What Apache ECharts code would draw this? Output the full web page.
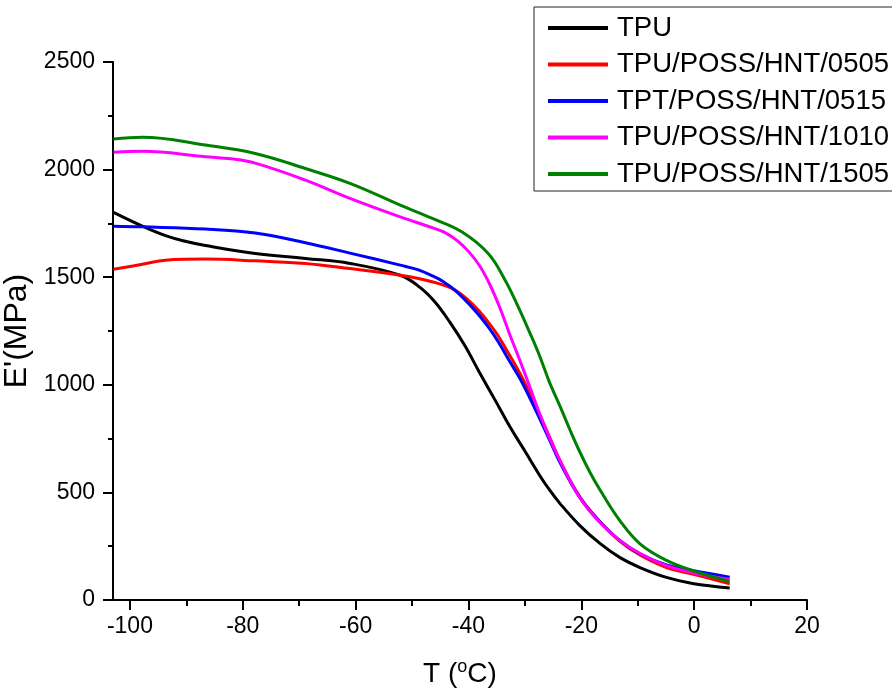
<!DOCTYPE html>
<html>
<head>
<meta charset="utf-8">
<script src="https://cdn.jsdelivr.net/npm/echarts@6/dist/echarts.min.js"></script>
<style>
html,body{margin:0;padding:0;background:#fff;}
#chart{width:892px;height:695px;}
</style>
</head>
<body>
<div id="chart"></div>
<script>
// ---- data ----
var seriesNames = ['TPU', 'TPU/POSS/HNT/0505', 'TPT/POSS/HNT/0515', 'TPU/POSS/HNT/1010', 'TPU/POSS/HNT/1505'];
var seriesColors = ['#000000', '#ff0000', '#0000ff', '#ff00ff', '#008000'];

var tTPU = [-102.9, -97.8, -93.7, -90.2, -86.6, -77.8, -68.9, -61.0, -52.1, -48.6, -45.9, -43.3, -40.6, -38.0, -35.3, -32.7, -30.0, -27.4, -25.6, -23.8, -20.3, -16.7, -13.2, -9.6, -4.9, -0.3, 6.3];
var eTPU = [1801, 1737, 1693, 1667, 1647, 1610, 1587, 1564, 1509, 1453, 1384, 1291, 1180, 1055, 930, 807, 692, 580, 510, 449, 347, 263, 198, 151, 105, 77, 56];

var t0505 = [-102.9, -97.8, -93.7, -86.6, -77.8, -68.9, -61.0, -52.1, -46.3, -42.4, -38.9, -36.6, -34.8, -32.7, -30.9, -29.1, -27.4, -25.6, -23.8, -20.3, -16.7, -13.2, -9.6, -4.9, -0.3, 6.3];
var e0505 = [1537, 1560, 1579, 1584, 1576, 1564, 1540, 1509, 1478, 1440, 1365, 1295, 1230, 1137, 1054, 961, 863, 756, 649, 481, 365, 274, 209, 151, 121, 75];

var t0515 = [-102.9, -97.8, -86.6, -77.8, -68.9, -61.0, -52.1, -49.0, -46.3, -44.5, -42.4, -38.9, -36.5, -34.7, -33.0, -30.9, -29.1, -27.4, -25.6, -23.8, -20.3, -16.7, -13.2, -9.6, -4.9, -0.3, 6.3];
var e0515 = [1737, 1734, 1724, 1705, 1660, 1612, 1556, 1535, 1505, 1480, 1440, 1347, 1269, 1199, 1122, 1030, 937, 844, 742, 640, 478, 362, 277, 215, 163, 137, 106];

var t1010 = [-102.9, -97.8, -86.6, -82.0, -77.8, -68.9, -61.0, -52.1, -46.3, -44.0, -42.0, -40.0, -38.0, -36.2, -34.4, -32.7, -30.9, -29.1, -27.4, -25.6, -23.8, -20.3, -16.7, -13.2, -9.6, -4.9, -0.3, 6.3];
var e1010 = [2081, 2085, 2060, 2050, 2030, 1951, 1866, 1780, 1729, 1705, 1670, 1620, 1552, 1465, 1356, 1235, 1114, 988, 867, 751, 649, 477, 360, 277, 216, 160, 128, 95];

var t1505 = [-102.9, -97.8, -86.6, -77.8, -68.9, -61.0, -52.1, -46.3, -41.2, -36.5, -33.5, -31.2, -29.1, -27.4, -25.6, -23.8, -22.0, -20.3, -18.5, -16.7, -13.2, -9.6, -4.9, -0.3, 6.3];
var e1505 = [2142, 2150, 2114, 2075, 2005, 1936, 1835, 1772, 1711, 1610, 1486, 1363, 1240, 1135, 1009, 902, 790, 690, 595, 512, 370, 261, 184, 137, 86];

var xMajorTicks = [-100, -80, -60, -40, -20, 0, 20];
var xMinorTicks = [-90, -70, -50, -30, -10, 10];

var allT = [tTPU, t0505, t0515, t1010, t1505];
var allE = [eTPU, e0505, e0515, e1010, e1505];

function pairs(t, e) {
  var out = [];
  for (var i = 0; i < t.length; i++) out.push([t[i], e[i]]);
  return out;
}

var FONT = '"Liberation Sans", Arial, Helvetica, sans-serif';

var series = seriesNames.map(function (name, i) {
  return {
    name: name,
    type: 'line',
    xAxisIndex: 0,
    data: pairs(allT[i], allE[i]),
    showSymbol: false,
    symbol: 'none',
    smooth: 0.4,
    lineStyle: { color: seriesColors[i], width: 3 },
    itemStyle: { color: seriesColors[i] },
    animation: false
  };
});

var chart = echarts.init(document.getElementById('chart'), null, { renderer: 'canvas' });
chart.setOption({
  backgroundColor: '#ffffff',
  animation: false,
  textStyle: { fontFamily: FONT },
  grid: { left: 113, right: 85, top: 62, bottom: 95, containLabel: false, outerBoundsMode: 'none' },
  legend: {
    orient: 'vertical',
    left: 534,
    top: 7,
    padding: [7, 12, 3, 14],
    itemWidth: 60,
    itemHeight: 27,
    itemGap: 8.5,
    backgroundColor: '#ffffff',
    borderColor: '#222222',
    borderWidth: 1,
    borderRadius: 0,
    icon: 'path://M0,0 L60,0 L60,4 L0,4 Z',
    textStyle: { fontFamily: FONT, fontSize: 27.5, color: '#000', padding: [0, 0, 0, 4], lineHeight: 27 },
    data: seriesNames.map(function (n, i) { return { name: n, itemStyle: { color: seriesColors[i] } }; })
  },
  xAxis: [
    {
      type: 'value',
      min: -103,
      max: 20,
      position: 'bottom',
      name: '{a|T (}{s|o}{a|C)}',
      nameLocation: 'middle',
      nameGap: 58,
      nameTextStyle: {
        rich: {
          a: { fontFamily: FONT, fontSize: 28, color: '#000', lineHeight: 30, verticalAlign: 'bottom' },
          s: { fontFamily: FONT, fontSize: 18, color: '#000', lineHeight: 30, verticalAlign: 'top', padding: [0, 0, 10, 0] }
        }
      },
      axisLine: { show: true, onZero: false, lineStyle: { color: '#000', width: 2 } },
      axisTick: { show: true, length: 10, lineStyle: { color: '#000', width: 2 }, customValues: xMajorTicks },
      axisLabel: { show: true, customValues: xMajorTicks, fontFamily: FONT, fontSize: 23, color: '#000', margin: 15 },
      splitLine: { show: false }
    },
    {
      type: 'value',
      min: -103,
      max: 20,
      position: 'bottom',
      offset: 0,
      axisLine: { show: false, onZero: false },
      axisTick: { show: true, length: 6, lineStyle: { color: '#000', width: 2 }, customValues: xMinorTicks },
      axisLabel: { show: false },
      splitLine: { show: false }
    }
  ],
  yAxis: {
    type: 'value',
    min: 0,
    max: 2500,
    interval: 500,
    name: "E'(MPa)",
    nameLocation: 'middle',
    nameGap: 64,
    nameRotate: 90,
    nameTextStyle: { fontFamily: FONT, fontSize: 32, color: '#000' },
    axisLine: { show: true, onZero: false, lineStyle: { color: '#000', width: 2 } },
    axisTick: { show: true, length: 10, lineStyle: { color: '#000', width: 2 } },
    minorTick: { show: true, splitNumber: 2, length: 5, lineStyle: { color: '#000', width: 2 } },
    axisLabel: { show: true, fontFamily: FONT, fontSize: 23, color: '#000', margin: 18,
      formatter: function (v) { return String(v); } },
    splitLine: { show: false },
    minorSplitLine: { show: false }
  },
  series: series
});
</script>
</body>
</html>
